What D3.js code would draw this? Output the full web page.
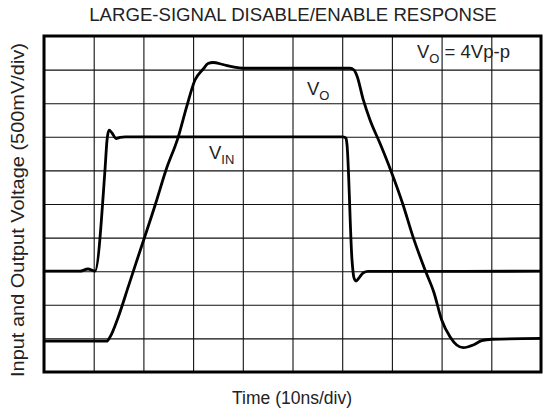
<!DOCTYPE html>
<html>
<head>
<meta charset="utf-8">
<script src="https://cdn.jsdelivr.net/npm/d3@7"></script>
<style>
  body { margin: 0; background: #fff; }
  text { font-family: "Liberation Sans", Arial, sans-serif; fill: #222; }
</style>
</head>
<body>
<svg id="chart" width="544" height="413"></svg>
<script>
// Time in ns (10ns/div), voltage in V (500mV/div)
const vinTime = [0, 7.2, 8.85, 9.86, 10.26, 12.27, 12.68, 13.08, 13.68, 14.49, 15.29, 16.3,
                 60.16, 60.76, 60.97, 61.97, 62.37, 62.78, 63.38, 64.19, 65.19, 100];
const vinVolt = [-1.0, -1.0, -0.967, -0.99, -1.0, 0.506, 0.952, 1.10, 1.057, 0.975, 0.99, 1.0,
                 1.0, 0.98, 0.88, -0.83, -1.10, -1.146, -1.10, -1.027, -1.004, -1.0];

const voTime = [0, 12.62, 13.28, 14.95, 16.96, 18.51, 22.43, 24.55, 27.02, 28.71, 30.38, 32.05,
                33.0, 34.0, 36.0, 38.03, 40.04, 61.57, 62.37, 62.98, 64.25, 65.6, 67.6, 69.74,
                72.19, 74.25, 76.66, 78.47, 80.02, 81.69, 83.04, 84.37, 86.38, 88.07, 90.08, 100];
const voVolt = [-2.04, -2.04, -1.98, -1.68, -1.23, -0.88, 0, 0.506, 1.0, 1.45, 1.845, 2.01,
                2.09, 2.106, 2.076, 2.04, 2.02, 2.02, 1.994, 1.905, 1.548, 1.25, 0.903, 0.506,
                0, -0.49, -0.98, -1.32, -1.726, -1.975, -2.098, -2.138, -2.098, -2.034, -2.013, -2.0];

const xTicks = d3.range(0, 101, 10);
const yTicks = d3.range(-2.5, 2.51, 0.5);

const margin = { top: 36, right: 3, bottom: 41, left: 44 };
const svg = d3.select("#chart");
const width = +svg.attr("width") - margin.left - margin.right;
const height = +svg.attr("height") - margin.top - margin.bottom;

const x = d3.scaleLinear().domain([0, 100]).range([0, width]);
const y = d3.scaleLinear().domain([-2.5, 2.5]).range([height, 0]);

const g = svg.append("g").attr("transform", `translate(${margin.left},${margin.top})`);

// grid
g.append("g")
  .attr("transform", `translate(0,${height})`)
  .call(d3.axisBottom(x).tickValues(xTicks).tickSize(-height).tickFormat(""))
  .call(a => a.select(".domain").remove())
  .call(a => a.selectAll("line").attr("stroke", "#111").attr("stroke-width", 1.1));

g.append("g")
  .call(d3.axisLeft(y).tickValues(yTicks).tickSize(-width).tickFormat(""))
  .call(a => a.select(".domain").remove())
  .call(a => a.selectAll("line").attr("stroke", "#111").attr("stroke-width", 1.1));

// traces
const line = d3.line()
  .x(d => x(d[0]))
  .y(d => y(d[1]))
  .curve(d3.curveMonotoneX);

g.append("path")
  .datum(d3.zip(vinTime, vinVolt))
  .attr("fill", "none")
  .attr("stroke", "#000")
  .attr("stroke-width", 2.8)
  .attr("stroke-linejoin", "round")
  .attr("d", line);

g.append("path")
  .datum(d3.zip(voTime, voVolt))
  .attr("fill", "none")
  .attr("stroke", "#000")
  .attr("stroke-width", 2.8)
  .attr("stroke-linejoin", "round")
  .attr("d", line);

// frame
g.append("rect")
  .attr("width", width).attr("height", height)
  .attr("fill", "none").attr("stroke", "#000").attr("stroke-width", 3);

// labels
svg.append("text")
  .attr("x", 293).attr("y", 21)
  .attr("text-anchor", "middle")
  .attr("font-size", 18.6)
  .attr("fill", "#444")
  .text("LARGE-SIGNAL DISABLE/ENABLE RESPONSE");

svg.append("text")
  .attr("x", 292).attr("y", 404)
  .attr("text-anchor", "middle")
  .attr("font-size", 17.5)
  .text("Time (10ns/div)");

svg.append("text")
  .attr("transform", "translate(24,210) rotate(-90)")
  .attr("text-anchor", "middle")
  .attr("font-size", 18)
  .attr("textLength", 334)
  .attr("lengthAdjust", "spacingAndGlyphs")
  .text("Input and Output Voltage (500mV/div)");

function subLabel(px, py, main, sub, rest) {
  const t = svg.append("text").attr("x", px).attr("y", py).attr("font-size", 18.5);
  t.append("tspan").text(main);
  t.append("tspan").attr("font-size", 13).attr("dy", 5).text(sub);
  if (rest) t.append("tspan").attr("dy", -5).text(rest);
}
subLabel(417, 58, "V", "O", " = 4Vp-p");
subLabel(307, 95, "V", "O");
subLabel(209, 159, "V", "IN");
</script>
</body>
</html>
